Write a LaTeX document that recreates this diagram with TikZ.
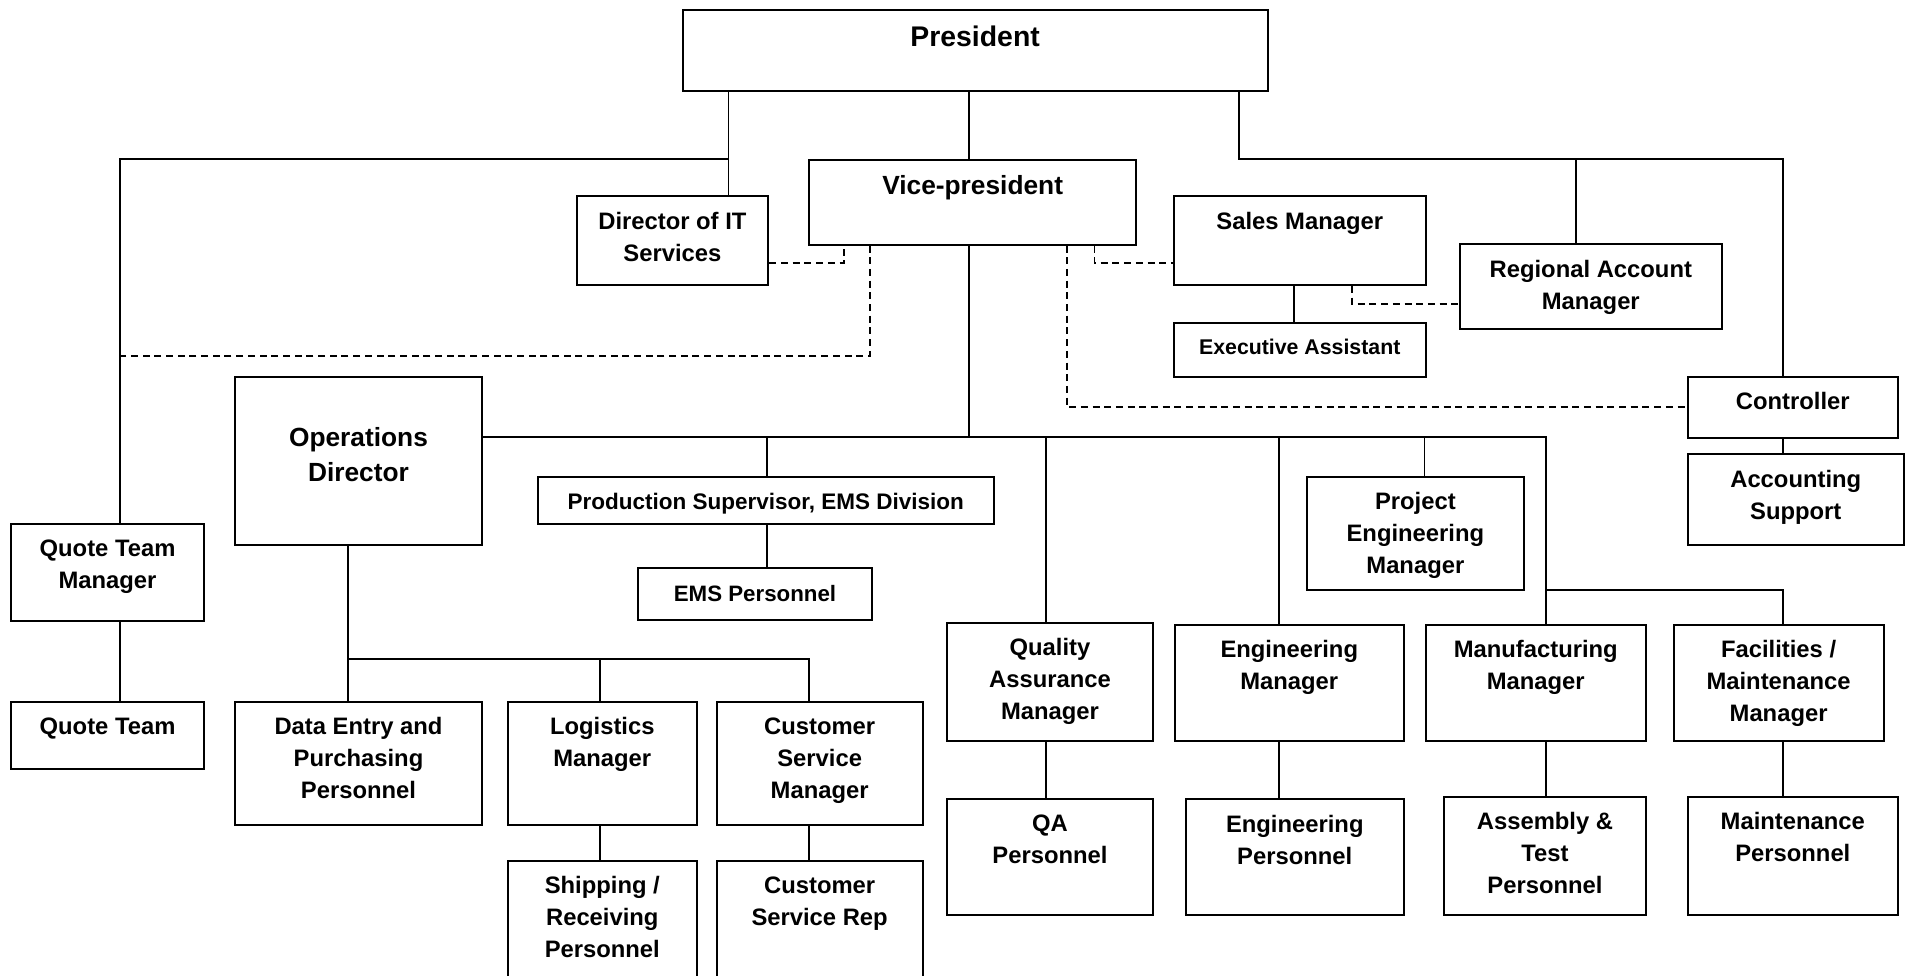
\documentclass[tikz,border=0pt]{standalone}
\usepackage{fontspec}
\setmainfont{Liberation Sans}
\usepackage{tikz}

\tikzset{
  box/.style={draw, line width=2pt, inner sep=0pt, anchor=north west},
  txt/.style={anchor=north, align=center, inner sep=0pt, yshift=-16.5pt,
    font=\bfseries\fontsize{23.8}{32}\selectfont},
  conn/.style={line width=1.7pt},
  dashlink/.style={line width=1.8pt, dash pattern=on 7pt off 4.7pt},
}

\begin{document}
\begin{tikzpicture}[x=1pt, y=-1pt]

  \useasboundingbox (0,0) rectangle (1910,975);

  % Top
  \node[box, minimum width=585.2, minimum height=80.7,
    label={[txt, font=\bfseries\fontsize{28.4}{34}\selectfont]north:President}] (pres) at (681.5,9.3) {}; %
  \node[box, minimum width=326.7, minimum height=84.8,
    label={[txt, font=\bfseries\fontsize{26.3}{35}\selectfont]north:Vice-president}] (vp) at (808.3,158.7) {}; %
  \node[box, minimum width=191.8, minimum height=88.7,
    label={[txt]north:{Director of IT\\Services}}] (dirit) at (575.5,195.3) {}; %

  % Sales side
  \node[box, minimum width=251.5, minimum height=88.7,
    label={[txt]north:Sales Manager}] (sales) at (1173,195.3) {}; %
  \node[box, minimum width=251.5, minimum height=53.7,
    label={[txt, font=\bfseries\fontsize{21.3}{28}\selectfont]north:Executive Assistant}] (exec) at (1173,322) {}; %
  \node[box, minimum width=262, minimum height=84.4,
    label={[txt]north:{Regional Account\\Manager}}] (ram) at (1458.8,243.3) {}; %
  \node[box, minimum width=210.5, minimum height=61,
    label={[txt]north:Controller}] (ctrl) at (1686.5,375.7) {}; %
  \node[box, minimum width=216.5, minimum height=90.4,
    label={[txt]north:{Accounting\\Support}}] (acct) at (1686.5,453.3) {}; %

  % Operations
  \node[box, minimum width=247, minimum height=168.3,
    label={[txt, yshift=-35pt, font=\bfseries\fontsize{26.3}{35}\selectfont]north:{Operations\\Director}}] (ops) at (234,375.7) {}; %
  \node[box, minimum width=456, minimum height=47,
    label={[txt, yshift=-1.2pt, font=\bfseries\fontsize{22.5}{30}\selectfont]north:{Production Supervisor, EMS Division}}] (prod) at (536.7,475.7) {}; %
  \node[box, minimum width=233.4, minimum height=52.6,
    label={[txt, yshift=-1.5pt, font=\bfseries\fontsize{22.3}{30}\selectfont]north:EMS Personnel}] (ems) at (637.3,566.7) {}; %
  \node[box, minimum width=217.3, minimum height=113.3,
    label={[txt]north:{Project\\Engineering\\Manager}}] (proj) at (1305.7,476) {}; %

  % Quote team
  \node[box, minimum width=192.3, minimum height=97,
    label={[txt]north:{Quote Team\\Manager}}] (qtm) at (10.4,522.7) {}; %
  \node[box, minimum width=192.3, minimum height=67,
    label={[txt]north:Quote Team}] (qt) at (10.4,700.7) {}; %

  % Operations staff
  \node[box, minimum width=247, minimum height=123.3,
    label={[txt]north:{Data Entry and\\Purchasing\\Personnel}}] (data) at (234,700.7) {}; %
  \node[box, minimum width=188.6, minimum height=123.3,
    label={[txt]north:{Logistics\\Manager}}] (logi) at (507,700.7) {}; %
  \node[box, minimum width=205.7, minimum height=123.3,
    label={[txt]north:{Customer\\Service\\Manager}}] (csm) at (715.8,700.7) {}; %
  \node[box, minimum width=188.6, minimum height=130,
    label={[txt]north:{Shipping /\\Receiving\\Personnel}}] (ship) at (507,860) {}; %
  \node[box, minimum width=205.7, minimum height=130,
    label={[txt]north:{Customer\\Service Rep}}] (csr) at (715.8,860) {}; %

  % Managers
  \node[box, minimum width=206, minimum height=117.7,
    label={[txt]north:{Quality\\Assurance\\Manager}}] (qam) at (946,622) {}; %
  \node[box, minimum width=229.5, minimum height=116,
    label={[txt]north:{Engineering\\Manager}}] (engm) at (1173.5,623.7) {}; %
  \node[box, minimum width=220.5, minimum height=116,
    label={[txt]north:{Manufacturing\\Manager}}] (mfg) at (1424.5,623.7) {}; %
  \node[box, minimum width=210, minimum height=116,
    label={[txt]north:{Facilities /\\Maintenance\\Manager}}] (fac) at (1672.6,623.7) {}; %

  % Personnel
  \node[box, minimum width=206, minimum height=115.4,
    label={[txt]north:{QA\\Personnel}}] (qap) at (946,798.3) {}; %
  \node[box, minimum width=218.5, minimum height=115.4,
    label={[txt]north:{Engineering\\Personnel}}] (engp) at (1184.5,798.3) {}; %
  \node[box, minimum width=202, minimum height=117.7,
    label={[txt]north:{Assembly \&\\Test\\Personnel}}] (asm) at (1443,796) {}; %
  \node[box, minimum width=210.4, minimum height=117.7,
    label={[txt]north:{Maintenance\\Personnel}}] (maint) at (1686.6,796) {}; %

  % Bus points
  \coordinate (lbus) at (120,158.7);
  \coordinate (rbus) at (1782.7,158.7);
  \coordinate (obus) at (1545.7,436.7);
  \coordinate (fbus) at (1545.7,590.3);
  \coordinate (dbus) at (347.8,659.3);
  \coordinate (qline) at (120,355.7);

  % President links
  \draw[conn] (pres.south -| 728.6,0) -- (dirit.north -| 728.6,0);
  \draw[conn] (pres.south -| 728.6,0) |- (lbus) -- (qtm.north -| lbus);
  \draw[conn] (pres.south -| 969,0) -- (vp.north -| 969,0);
  \draw[conn] (pres.south -| 1239,0) |- (rbus) -- (ctrl.north -| rbus);
  \draw[conn] (rbus -| 1576.3,0) -- (ram.north -| 1576.3,0);

  % Vice-president links
  \draw[conn] (vp.south -| 969,0) -- (obus -| 969,0);
  \draw[conn] (ops.east |- obus) -- (obus) -- (mfg.north -| obus);
  \foreach \x/\n in {767/prod, 1046/qam, 1278.8/engm, 1424.5/proj}
    \draw[conn] (obus -| \x,0) -- (\n.north -| \x,0);
  \draw[conn] (fbus) -| (fac.north -| 1782.8,0);

  % Operations director links
  \draw[conn] (ops.south -| dbus) -- (data.north -| dbus);
  \draw[conn] (dbus) -| (csm.north -| 808.8,0);
  \draw[conn] (dbus -| 600,0) -- (logi.north -| 600,0);

  % One to one
  \foreach \a/\b/\x in {prod/ems/767, qtm/qt/120, sales/exec/1294, ctrl/acct/1782.7,
      logi/ship/600, csm/csr/808.8, qam/qap/1046, engm/engp/1278.8,
      mfg/asm/1545.8, fac/maint/1782.8}
    \draw[conn] (\a.south -| \x,0) -- (\b.north -| \x,0);

  % Dashed links
  \draw[dashlink] (dirit.east |- 0,262.7) -| (vp.south -| 844,0);
  \draw[dashlink] (vp.south -| 870,0) |- (qline);
  \draw[dashlink] (vp.south -| 1094.5,0) |- (sales.west |- 0,262.7);
  \draw[dashlink] (vp.south -| 1067,0) |- (ctrl.west);
  \draw[dashlink] (sales.south -| 1352,0) |- (ram.west |- 0,303.7);

\end{tikzpicture}
\end{document}
